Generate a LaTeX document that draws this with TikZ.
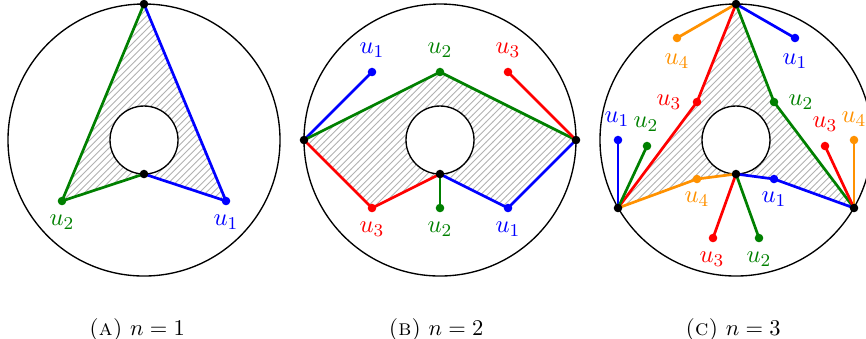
\documentclass[tikz,border=0pt]{standalone}
\usetikzlibrary{patterns}
\definecolor{cgreen}{RGB}{0,128,0}
\definecolor{corange}{RGB}{255,145,0}
\begin{document}
\begin{tikzpicture}[x=0.4444pt,y=-0.4444pt,
  ring/.style={line width=0.6pt},
  edge/.style={line width=1.2pt,line join=round,line cap=round},
  dot/.style={circle,inner sep=0pt,minimum size=3.8pt},
  hatch/.style={pattern=north east lines,pattern color=gray!60},
  lab/.style={font=\fontsize{11}{13}\selectfont,inner sep=0pt},
  capt/.style={font=\fontsize{10}{12}\selectfont,inner sep=0pt,anchor=base}]
\useasboundingbox (0,0) rectangle (866,338);

% ---------- Panel A ----------
\coordinate (aO) at (144,140);
\coordinate (aT) at (144,4);
\coordinate (aB) at (144,174);
\coordinate (aU1) at (226,201);
\coordinate (aU2) at (62,201);
\fill[hatch] (aT) -- (aU1) -- (aB) -- (aU2) -- cycle;
\draw[ring,fill=white] (aO) circle (15.11pt);
\draw[ring] (aO) circle (60.44pt);
\draw[edge,cgreen] (aT) -- (aU2) -- (aB);
\draw[edge,blue] (aT) -- (aU1) -- (aB);
\node[dot,fill=black] (aTd) at (aT) {};
\node[dot,fill=black] (aBd) at (aB) {};
\node[dot,fill=blue] (aU1d) at (aU1) {};
\node[dot,fill=cgreen] (aU2d) at (aU2) {};
\node[lab,text=blue] (aL1) at (226,222) {$u_1$};
\node[lab,text=cgreen] (aL2) at (62,222) {$u_2$};
\node[capt] (capA) at (137,335) {\textsc{(a)} $n=1$};

% ---------- Panel B ----------
\coordinate (bO) at (440,140);
\coordinate (bL) at (304,140);
\coordinate (bR) at (576,140);
\coordinate (bB) at (440,174);
\coordinate (bT1) at (372,72);
\coordinate (bT2) at (440,72);
\coordinate (bT3) at (508,72);
\coordinate (bD3) at (372,208);
\coordinate (bD2) at (440,208);
\coordinate (bD1) at (508,208);
\fill[hatch] (bL) -- (bT2) -- (bR) -- (bD1) -- (bB) -- (bD3) -- cycle;
\draw[ring,fill=white] (bO) circle (15.11pt);
\draw[ring] (bO) circle (60.44pt);
\draw[edge,blue] (bL) -- (bT1);
\draw[edge,cgreen] (bL) -- (bT2) -- (bR);
\draw[edge,red] (bR) -- (bT3);
\draw[edge,red] (bL) -- (bD3) -- (bB);
\draw[edge,cgreen] (bB) -- (bD2);
\draw[edge,blue] (bB) -- (bD1) -- (bR);
\node[dot,fill=black] (bLd) at (bL) {};
\node[dot,fill=black] (bRd) at (bR) {};
\node[dot,fill=black] (bBd) at (bB) {};
\node[dot,fill=blue] (bT1d) at (bT1) {};
\node[dot,fill=cgreen] (bT2d) at (bT2) {};
\node[dot,fill=red] (bT3d) at (bT3) {};
\node[dot,fill=red] (bD3d) at (bD3) {};
\node[dot,fill=cgreen] (bD2d) at (bD2) {};
\node[dot,fill=blue] (bD1d) at (bD1) {};
\node[lab,text=blue] (bLT1) at (372,50) {$u_1$};
\node[lab,text=cgreen] (bLT2) at (440,50) {$u_2$};
\node[lab,text=red] (bLT3) at (508,50) {$u_3$};
\node[lab,text=red] (bLD3) at (372,229) {$u_3$};
\node[lab,text=cgreen] (bLD2) at (440,229) {$u_2$};
\node[lab,text=blue] (bLD1) at (508,229) {$u_1$};
\node[capt] (capB) at (436,335) {\textsc{(b)} $n=2$};

% ---------- Panel C ----------
\coordinate (cO) at (736,140);
\coordinate (cT) at (736,4);
\coordinate (cB) at (736,174);
\coordinate (cLL) at (618,208);
\coordinate (cRR) at (854,208);
\coordinate (cTu4) at (677,38);
\coordinate (cTu1) at (795,38);
\coordinate (cMu3) at (697,102);
\coordinate (cMu2) at (774,102);
\coordinate (cLu1) at (618,140);
\coordinate (cLu2) at (647,146);
\coordinate (cRu3) at (825,146);
\coordinate (cRu4) at (854,140);
\coordinate (cBu4) at (697,179);
\coordinate (cBu1) at (774,179);
\coordinate (cDu3) at (713,238);
\coordinate (cDu2) at (759,238);
\fill[hatch] (cT) -- (cMu2) -- (cRR) -- (cBu1) -- (cB) -- (cBu4) -- (cLL) -- (cMu3) -- cycle;
\draw[ring,fill=white] (cO) circle (15.11pt);
\draw[ring] (cO) circle (60.44pt);
\draw[edge,corange] (cT) -- (cTu4);
\draw[edge,blue] (cT) -- (cTu1);
\draw[edge,red] (cT) -- (cMu3) -- (cLL);
\draw[edge,cgreen] (cT) -- (cMu2) -- (cRR);
\draw[edge,blue] (cLL) -- (cLu1);
\draw[edge,cgreen] (cLL) -- (cLu2);
\draw[edge,red] (cRR) -- (cRu3);
\draw[edge,corange] (cRR) -- (cRu4);
\draw[edge,corange] (cLL) -- (cBu4) -- (cB);
\draw[edge,blue] (cB) -- (cBu1) -- (cRR);
\draw[edge,red] (cB) -- (cDu3);
\draw[edge,cgreen] (cB) -- (cDu2);
\node[dot,fill=black] (cTd) at (cT) {};
\node[dot,fill=black] (cBd) at (cB) {};
\node[dot,fill=black] (cLLd) at (cLL) {};
\node[dot,fill=black] (cRRd) at (cRR) {};
\node[dot,fill=corange] (cTu4d) at (cTu4) {};
\node[dot,fill=blue] (cTu1d) at (cTu1) {};
\node[dot,fill=red] (cMu3d) at (cMu3) {};
\node[dot,fill=cgreen] (cMu2d) at (cMu2) {};
\node[dot,fill=blue] (cLu1d) at (cLu1) {};
\node[dot,fill=cgreen] (cLu2d) at (cLu2) {};
\node[dot,fill=red] (cRu3d) at (cRu3) {};
\node[dot,fill=corange] (cRu4d) at (cRu4) {};
\node[dot,fill=corange] (cBu4d) at (cBu4) {};
\node[dot,fill=blue] (cBu1d) at (cBu1) {};
\node[dot,fill=red] (cDu3d) at (cDu3) {};
\node[dot,fill=cgreen] (cDu2d) at (cDu2) {};
\node[lab,text=corange] (cLTu4) at (677,61) {$u_4$};
\node[lab,text=blue] (cLTu1) at (795,61) {$u_1$};
\node[lab,text=red] (cLMu3) at (669,102) {$u_3$};
\node[lab,text=cgreen] (cLMu2) at (801,102) {$u_2$};
\node[lab,text=blue] (cLLu1) at (617,119) {$u_1$};
\node[lab,text=cgreen] (cLLu2) at (646,124.5) {$u_2$};
\node[lab,text=red] (cLRu3) at (825,124.5) {$u_3$};
\node[lab,text=corange] (cLRu4) at (854,119) {$u_4$};
\node[lab,text=corange] (cLBu4) at (697,199.5) {$u_4$};
\node[lab,text=blue] (cLBu1) at (774,199.5) {$u_1$};
\node[lab,text=red] (cLDu3) at (712,259.5) {$u_3$};
\node[lab,text=cgreen] (cLDu2) at (759,259.5) {$u_2$};
\node[capt] (capC) at (733,335) {\textsc{(c)} $n=3$};
\end{tikzpicture}
\end{document}
